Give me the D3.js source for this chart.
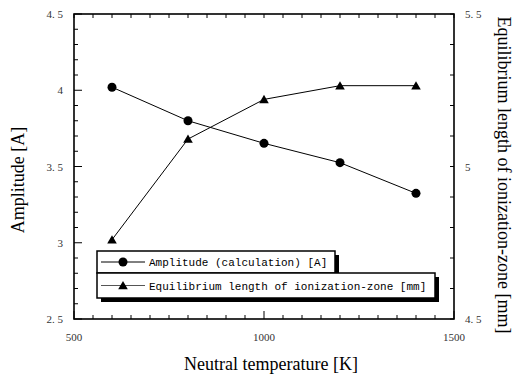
<!DOCTYPE html>
<html lang="en">
<head>
<meta charset="UTF-8">
<title>Amplitude vs neutral temperature</title>
<style>
    body { margin: 0; background: #fff; }
    svg { display: block; }
    .tick-label { font-family: "Liberation Serif", serif; font-size: 11px; fill: #333; }
    .axis-title { font-family: "Liberation Serif", "Times New Roman", serif; font-size: 18px; fill: #000; }
    .legend-text { font-family: "Liberation Mono", monospace; font-size: 11px; fill: #000; }
</style>
</head>
<body>
<svg id="chart"></svg>
<script src="https://cdnjs.cloudflare.com/ajax/libs/d3/7.8.5/d3.min.js"></script>
<script>
    // data
    var temperatures = [600, 800, 1000, 1200, 1400];
    var amplitude = [4.02, 3.80, 3.652, 3.525, 3.324];
    var eqLength = [4.76, 5.09, 5.22, 5.265, 5.265];

    var xTickLabels = ["500", "1000", "1500"];
    var leftTickLabels = ["2. 5", "3", "3. 5", "4", "4. 5"];
    var rightTickLabels = ["4. 5", "5", "5. 5"];
    var legendLabels = ["Amplitude (calculation) [A]", "Equilibrium length of ionization-zone [mm]"];

    var width = 516, height = 379;
    // plot box (note: "top" is reserved on window, so use other names)
    var plotLeft = 74, plotRight = 454, plotTop = 14, plotBottom = 319;

    var svg = d3.select("#chart").attr("width", width).attr("height", height);

    var x = d3.scaleLinear().domain([500, 1500]).range([plotLeft, plotRight]);
    var yL = d3.scaleLinear().domain([2.5, 4.5]).range([plotBottom, plotTop]);
    var yR = d3.scaleLinear().domain([4.5, 5.5]).range([plotBottom, plotTop]);

    // frame
    svg.append("rect")
        .attr("x", plotLeft).attr("y", plotTop)
        .attr("width", plotRight - plotLeft).attr("height", plotBottom - plotTop)
        .attr("fill", "none").attr("stroke", "#000").attr("stroke-width", 1.6);

    var ticks = svg.append("g").attr("stroke", "#000").attr("stroke-width", 1);

    // x ticks, every 50, on bottom and top
    d3.range(500, 1501, 50).forEach(function (v) {
        var major = v % 500 === 0;
        ticks.append("line")
            .attr("x1", x(v)).attr("x2", x(v))
            .attr("y1", plotBottom).attr("y2", plotBottom - (major ? 8 : 4));
        ticks.append("line")
            .attr("x1", x(v)).attr("x2", x(v))
            .attr("y1", plotTop).attr("y2", plotTop + 4);
    });

    // left ticks every 0.1
    d3.range(25, 46, 1).forEach(function (k) {
        var v = k / 10, major = k % 5 === 0;
        ticks.append("line")
            .attr("x1", plotLeft).attr("x2", plotLeft + (major ? 8 : 4))
            .attr("y1", yL(v)).attr("y2", yL(v));
    });

    // right ticks every 0.1
    d3.range(45, 56, 1).forEach(function (k) {
        var v = k / 10;
        ticks.append("line")
            .attr("x1", plotRight).attr("x2", plotRight - 4)
            .attr("y1", yR(v)).attr("y2", yR(v));
    });

    // tick labels
    xTickLabels.forEach(function (t) {
        svg.append("text").attr("class", "tick-label")
            .attr("x", x(+t)).attr("y", plotBottom + 22)
            .attr("text-anchor", "middle").text(t);
    });
    leftTickLabels.forEach(function (t) {
        svg.append("text").attr("class", "tick-label")
            .attr("x", plotLeft - 11).attr("y", yL(+t.replace(" ", "")) + 4)
            .attr("text-anchor", "end").text(t);
    });
    rightTickLabels.forEach(function (t) {
        svg.append("text").attr("class", "tick-label")
            .attr("x", plotRight + 11).attr("y", yR(+t.replace(" ", "")) + 4)
            .attr("text-anchor", "start").text(t);
    });

    // axis titles
    svg.append("text").attr("class", "axis-title")
        .attr("x", 271).attr("y", 370)
        .attr("text-anchor", "middle").text("Neutral temperature [K]");
    svg.append("text").attr("class", "axis-title")
        .attr("transform", "translate(24,180) rotate(-90)")
        .attr("text-anchor", "middle").text("Amplitude [A]");
    svg.append("text").attr("class", "axis-title")
        .attr("transform", "translate(498,175) rotate(90)")
        .attr("text-anchor", "middle").text("Equilibrium length of ionization-zone [mm]");

    // series
    var lineA = d3.line().x(function (d, i) { return x(temperatures[i]); }).y(function (d) { return yL(d); });
    var lineB = d3.line().x(function (d, i) { return x(temperatures[i]); }).y(function (d) { return yR(d); });
    var tri = d3.symbol().type(d3.symbolTriangle).size(40);

    svg.append("path").attr("d", lineA(amplitude))
        .attr("fill", "none").attr("stroke", "#000").attr("stroke-width", 1);
    svg.append("path").attr("d", lineB(eqLength))
        .attr("fill", "none").attr("stroke", "#000").attr("stroke-width", 1);

    svg.selectAll(".dot").data(amplitude).enter().append("circle")
        .attr("cx", function (d, i) { return x(temperatures[i]); })
        .attr("cy", function (d) { return yL(d); })
        .attr("r", 4.5).attr("fill", "#000");
    svg.selectAll(".tri").data(eqLength).enter().append("path")
        .attr("d", tri)
        .attr("transform", function (d, i) { return "translate(" + x(temperatures[i]) + "," + (yR(d) + 1) + ")"; })
        .attr("fill", "#000");

    // legend: two boxes with drop shadows
    var legend = svg.append("g");
    var boxes = [
        { x: 97, y: 251, w: 238, h: 22 },
        { x: 97, y: 273, w: 338, h: 25 }
    ];
    boxes.forEach(function (b, i) {
        legend.append("rect")
            .attr("x", b.x + 4).attr("y", b.y + 4).attr("width", b.w).attr("height", b.h)
            .attr("fill", "#000");
        legend.append("rect")
            .attr("x", b.x).attr("y", b.y).attr("width", b.w).attr("height", b.h)
            .attr("fill", "#fff").attr("stroke", "#000").attr("stroke-width", 1.5);
        var cy = b.y + b.h / 2;
        legend.append("line")
            .attr("x1", b.x + 4).attr("x2", b.x + 48).attr("y1", cy).attr("y2", cy)
            .attr("stroke", i === 0 ? "#000" : "#555").attr("stroke-width", 1);
        if (i === 0) {
            legend.append("circle").attr("cx", b.x + 26).attr("cy", cy).attr("r", 4.5).attr("fill", "#000");
        } else {
            legend.append("path").attr("d", tri)
                .attr("transform", "translate(" + (b.x + 26) + "," + (cy + 1) + ")").attr("fill", "#000");
        }
        legend.append("text").attr("class", "legend-text")
            .attr("x", b.x + 52).attr("y", cy + 4).text(legendLabels[i]);
    });
</script>
</body>
</html>
